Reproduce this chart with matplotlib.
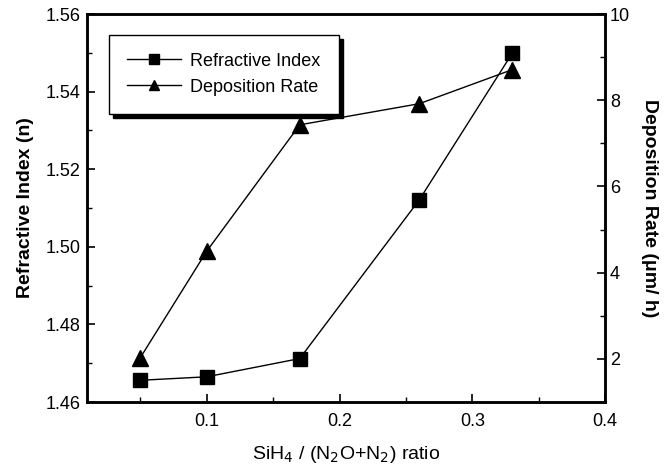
import matplotlib
matplotlib.use('Agg')
import matplotlib.pyplot as plt
from matplotlib.ticker import MultipleLocator

plt.rcParams['font.family'] = ['Liberation Sans', 'DejaVu Sans']

ratio = [0.05, 0.10, 0.17, 0.26, 0.33]
refr_index = [1.4656, 1.4665, 1.4712, 1.5121, 1.5499]
dep_rate = [2.03, 4.50, 7.43, 7.92, 8.71]

fig = plt.figure(figsize=(6.71, 4.68), dpi=100)
ax = fig.add_axes([0.130, 0.141, 0.772, 0.829])
ax2 = ax.twinx()

l1, = ax.plot(ratio, refr_index, color='black', linewidth=1.0,
              marker='s', markersize=10, label='Refractive Index')
l2, = ax2.plot(ratio, dep_rate, color='black', linewidth=1.0,
               marker='^', markersize=11, label='Deposition Rate')

ax.set_xlim(0.01, 0.4)
ax.set_ylim(1.46, 1.56)
ax2.set_ylim(1, 10)

ax.xaxis.set_minor_locator(MultipleLocator(0.05))
ax.yaxis.set_minor_locator(MultipleLocator(0.01))
ax2.yaxis.set_major_locator(MultipleLocator(2))
ax2.yaxis.set_minor_locator(MultipleLocator(1))

ax.set_xticks([0.1, 0.2, 0.3, 0.4])
ax.set_xticklabels(['0.1', '0.2', '0.3', '0.4'])
ax.set_yticks([1.46, 1.48, 1.50, 1.52, 1.54, 1.56])
ax.set_yticklabels(['1.46', '1.48', '1.50', '1.52', '1.54', '1.56'])

for a in (ax, ax2):
    a.tick_params(which='both', direction='in', labelsize=13)
    a.tick_params(which='major', length=6, width=1.2)
    a.tick_params(which='minor', length=3.5, width=1.0)
    for s in a.spines.values():
        s.set_linewidth(1.8)
ax.tick_params(axis='x', pad=8)
ax.tick_params(axis='y', pad=5)

ax.set_xlabel('SiH$_4$ / (N$_2$O+N$_2$) ratio', fontsize=14, labelpad=10)
ax.set_ylabel('Refractive Index (n)', fontsize=14, fontweight='bold', labelpad=8)
ax2.set_ylabel('Deposition Rate (\u03bcm/ h)', fontsize=14, fontweight='bold',
               rotation=270, labelpad=20)

leg = ax.legend([l1, l2], ['Refractive Index', 'Deposition Rate'],
                loc='upper left', bbox_to_anchor=(0.025, 0.97),
                fontsize=13, fancybox=False,
                shadow={'color': 'black', 'alpha': 1.0, 'ox': 3, 'oy': -3},
                framealpha=1, edgecolor='black', handlelength=3.0,
                handletextpad=0.5, borderpad=1.0, labelspacing=0.5,
                markerscale=0.7)
leg.get_frame().set_linewidth(1.0)

fig.savefig('out.png', dpi=100)
